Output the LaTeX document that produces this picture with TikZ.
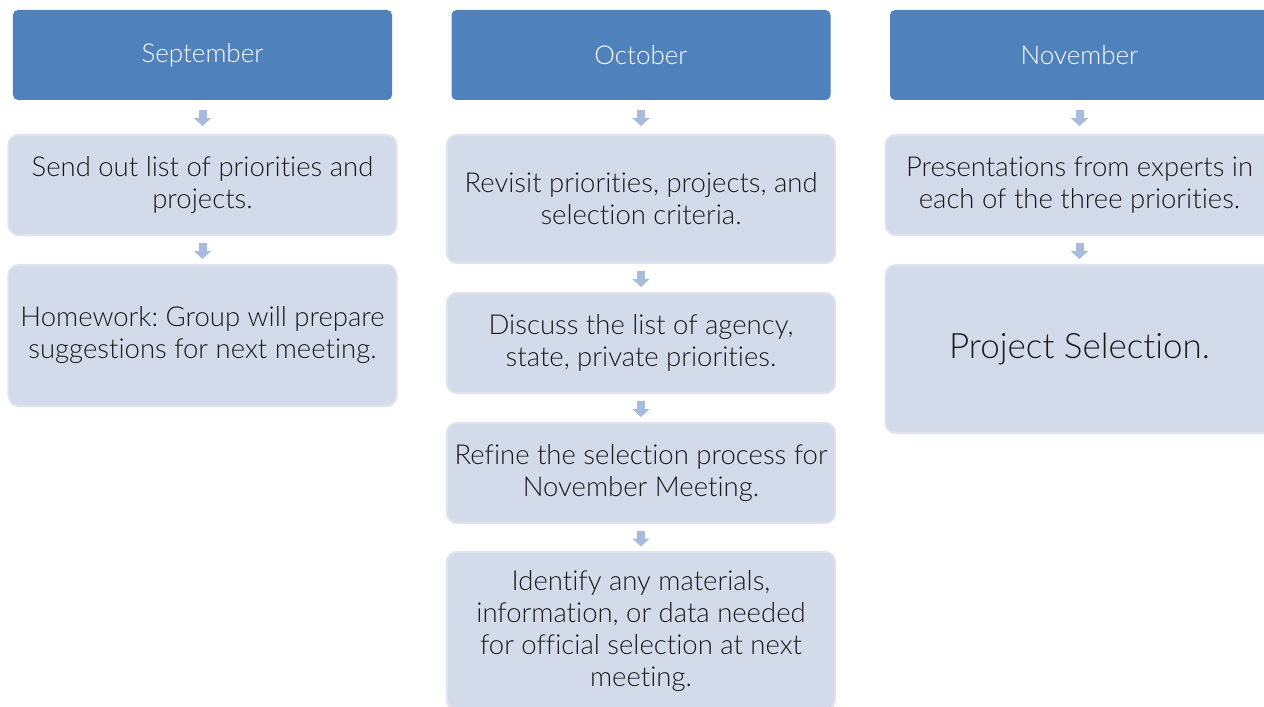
\documentclass[tikz,border=0pt]{standalone}
\usepackage{fontspec}
\setmainfont{Lato Light}[Ligatures=NoCommon]
\usetikzlibrary{arrows.meta,calc}
\definecolor{hdrblue}{HTML}{4F81BD}
\definecolor{boxfill}{HTML}{D3DAE9}
\definecolor{boxline}{HTML}{DEE3EE}
\definecolor{arrblue}{HTML}{A9BBDD}
\definecolor{txtgray}{HTML}{1A1A1A}
\frenchspacing
\begin{document}
\begin{tikzpicture}[x=1bp,y=-1bp,
		month/.style={rectangle,rounded corners=5bp,fill=hdrblue,text=white,minimum width=379bp,minimum height=90bp,inner sep=0pt,font=\fontsize{26bp}{30bp}\selectfont},
		task/.style={rectangle,rounded corners=10bp,fill=boxfill,draw=boxline,line width=2bp,text=txtgray,minimum width=388bp,inner sep=0pt,align=center,font=\fontsize{27.5bp}{32bp}\selectfont},
		down/.style={arrblue,line width=8bp,-{Triangle[width=17bp,length=8bp]}}]
				\useasboundingbox (0,0) rectangle (1264,707);
				% September
				\node[month] (sep) at (202.5,55) {September};
				\node[task,minimum height=100bp] (sepa) at (202.5,185) {Send out list of priorities and\\projects.};
				\node[task,minimum height=141bp] (sepb) at (202.5,335.5) {Homework: Group will prepare\\suggestions for next meeting.};
				% October
				\node[month] (oct) at (641,55) {October};
				\node[task,minimum height=128bp] (octa) at (641,199) {Revisit priorities, projects, and\\selection criteria.};
				\node[task,minimum height=100bp] (octb) at (641,343) {Discuss the list of agency,\\state, private priorities.};
				\node[task,minimum height=100bp] (octc) at (641,473) {Refine the selection process for\\November Meeting.};
				\node[task,minimum height=158bp] (octd) at (641,631) {Identify any materials,\\information, or data needed\\for official selection at next\\meeting.};
				% November
				\node[month] (nov) at (1079.5,55) {November};
				\node[task,minimum height=100bp] (nova) at (1079.5,185) {Presentations from experts in\\each of the three priorities.};
				\node[task,minimum height=168bp,font=\fontsize{35bp}{40bp}\selectfont] (novb) at (1079.5,349) {Project Selection.};
				% arrows
				\foreach \a/\b in {sep/sepa,sepa/sepb,oct/octa,octa/octb,octb/octc,octc/octd,nov/nova,nova/novb}
					\draw[down] ($(\a.south)!0.5!(\b.north)+(0,-7)$) -- +(0,16);
		\end{tikzpicture}
\end{document}
